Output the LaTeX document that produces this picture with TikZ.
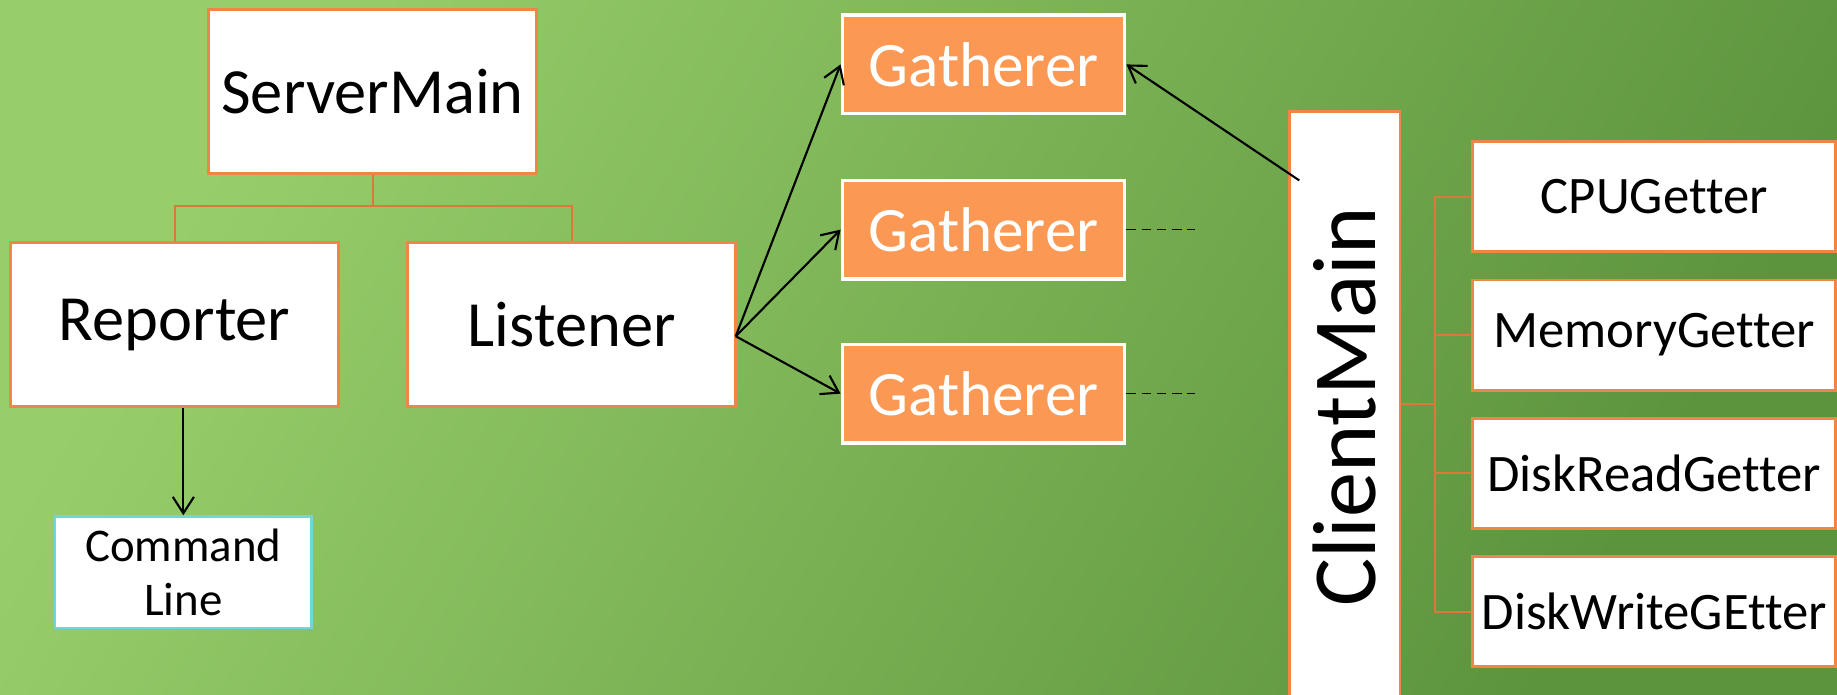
\documentclass[tikz,border=0pt]{standalone}
\usepackage{fontspec}
\setmainfont{Carlito}[Ligatures=CommonOff]
\usetikzlibrary{arrows.meta}
\definecolor{bgA}{RGB}{152,206,106}
\definecolor{bgB}{RGB}{92,148,62}
\definecolor{brd}{RGB}{238,134,72}
\definecolor{treec}{RGB}{222,120,58}
\definecolor{gath}{RGB}{250,152,84}
\definecolor{cyanb}{RGB}{110,216,212}
\tikzset{
  wbox/.style={draw=brd, fill=white, line width=1.2pt, inner sep=0pt, text=black},
  gbox/.style={draw=white, fill=gath, line width=1.5pt, inner sep=0pt, text=white,
    minimum width=120.5pt, minimum height=42pt, font=\fontsize{27}{32}\selectfont},
  bigtxt/.style={font=\fontsize{27.5}{33}\selectfont},
  gettxt/.style={font=\fontsize{22.5}{27}\selectfont, minimum width=155pt, minimum height=47pt},
  treeln/.style={draw=treec, line width=0.9pt},
  arr/.style={draw=black, line width=0.9pt, -{Straight Barb[length=7pt,width=9pt]}},
  dashln/.style={draw=black, line width=0.6pt, dash pattern=on 4pt off 2.5pt}
}
\begin{document}
\begin{tikzpicture}[x=0.5pt,y=-0.5pt]
\clip (0,0) rectangle (1568,593);
\shade[top color=bgA, bottom color=bgB, shading angle=60] (0,0) rectangle (1568,593);

% server side
\node[wbox, bigtxt, minimum width=140pt, minimum height=70pt] (sm) at (318,78) {ServerMain};
\node[wbox, bigtxt, minimum width=140pt, minimum height=70pt] (rep) at (149,277) {Reporter};
\node[wbox, bigtxt, minimum width=140pt, minimum height=70pt] (lis) at (488,277) {Listener};
\node[wbox, draw=cyanb, align=center, minimum width=109.5pt, minimum height=47.5pt,
      font=\fontsize{20}{23}\selectfont] (cmd) at (156.5,488.5) {Command\\Line};

\coordinate (smj) at (318,177);
\draw[treeln] (sm.south) -- (smj);
\draw[treeln] (rep.north) -- ++(0,-30) -| (lis.north);
\draw[arr] (rep.south -| cmd.north) -- (cmd.north);

% gatherers
\node[gbox] (g1) at (839.5,55) {Gatherer};
\node[gbox] (g2) at (839.5,196) {Gatherer};
\node[gbox] (g3) at (839.5,336) {Gatherer};

\coordinate (lo) at (628,287);
\draw[arr] (lo) -- (g1.west);
\draw[arr] (lo) -- (g2.west);
\draw[arr] (lo) -- (g3.west);

\coordinate (d2) at (1020,196);
\coordinate (d3) at (1020,336);
\draw[dashln] (g2.east) -- (d2);
\draw[dashln] (g3.east) -- (d3);

% client side
\node[wbox, rotate=90, minimum width=252.5pt, minimum height=47pt,
      font=\fontsize{38.5}{46}\selectfont] (cm) at (1148,347.5) {ClientMain};
\coordinate (cs) at (1109,154);
\draw[arr] (cs) -- (g1.east);

\node[wbox, gettxt] (cpu) at (1412,168) {CPUGetter};
\node[wbox, gettxt] (mem) at (1412,286) {MemoryGetter};
\node[wbox, gettxt] (dr)  at (1412,404) {DiskReadGetter};
\node[wbox, gettxt] (dw)  at (1412,522) {DiskWriteGEtter};

\coordinate (cmj) at (1226,345);
\draw[treeln] (cm.south |- cmj) -- (cmj);
\draw[treeln] (cpu.west) -- ++(-31,0) |- (dw.west);
\draw[treeln] (mem.west) -- ++(-31,0);
\draw[treeln] (dr.west) -- ++(-31,0);
\end{tikzpicture}
\end{document}
